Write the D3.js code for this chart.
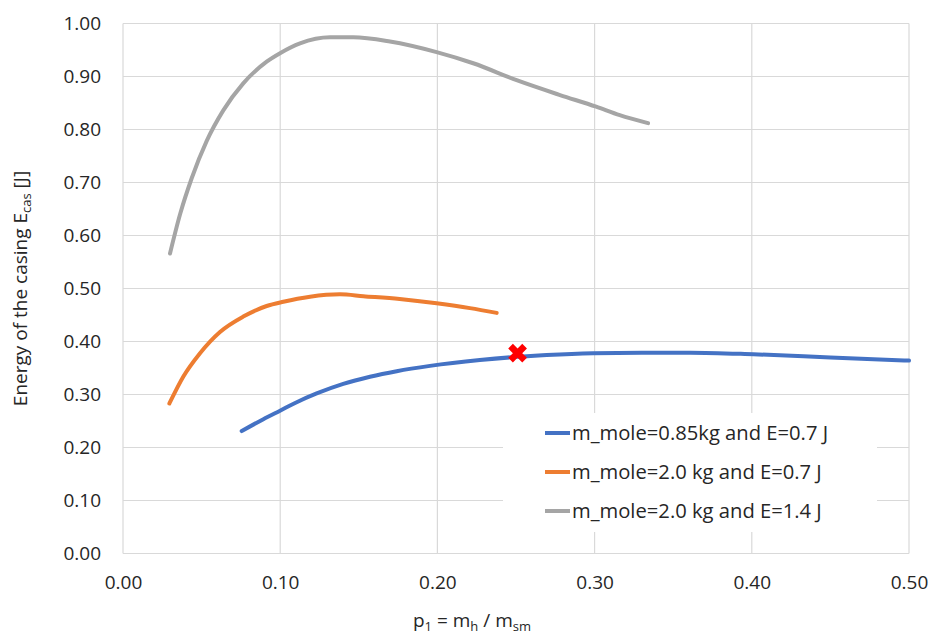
<!DOCTYPE html>
<html>
<head>
<meta charset="utf-8">
<script src="https://cdn.jsdelivr.net/npm/d3@7.9.0/dist/d3.min.js"></script>
<style>
  html, body { margin: 0; padding: 0; background: #fff; }
  svg { display: block; font-family: "Open Sans", Lato, sans-serif; }
</style>
</head>
<body>
<div id="chart"></div>
<script>
// series: p1 = m_h / m_sm  vs  E_cas [J]
const blueP = [0.0755, 0.0893, 0.0999, 0.1105, 0.1232, 0.1401, 0.1571, 0.1741, 0.1953, 0.227, 0.2504, 0.2695, 0.299, 0.330, 0.361, 0.401, 0.45, 0.5];
const blueE = [0.231, 0.2535, 0.2695, 0.2855, 0.302, 0.320, 0.3335, 0.344, 0.354, 0.365, 0.371, 0.3745, 0.378, 0.379, 0.379, 0.376, 0.370, 0.364];

const orangeP = [0.0295, 0.0384, 0.049, 0.0617, 0.0765, 0.0914, 0.102, 0.119, 0.138, 0.1529, 0.176, 0.1995, 0.2207, 0.2377];
const orangeE = [0.283, 0.334, 0.378, 0.418, 0.447, 0.467, 0.475, 0.4845, 0.489, 0.4855, 0.480, 0.472, 0.463, 0.454];

const grayP = [0.0299, 0.0363, 0.0437, 0.0532, 0.0638, 0.0765, 0.0914, 0.0999, 0.1126, 0.1317, 0.1465, 0.1698, 0.1995, 0.2228, 0.2504, 0.278, 0.301, 0.316, 0.334];
const grayE = [0.566, 0.640, 0.708, 0.778, 0.836, 0.887, 0.928, 0.944, 0.9625, 0.974, 0.974, 0.966, 0.946, 0.925, 0.893, 0.865, 0.843, 0.827, 0.812];

const markP = [0.251];
const markE = [0.378];

const seriesNames = [
  "m_mole=0.85kg and E=0.7 J",
  "m_mole=2.0 kg and E=0.7 J",
  "m_mole=2.0 kg and E=1.4 J"
];
const seriesColors = ["#4472C4", "#ED7D31", "#A5A5A5"];

const xTicks = [0, 0.1, 0.2, 0.3, 0.4, 0.5];
const yTicks = [0, 0.1, 0.2, 0.3, 0.4, 0.5, 0.6, 0.7, 0.8, 0.9, 1.0];

const width = 930, height = 637;
const margin = { top: 23.5, right: 21, bottom: 83.5, left: 123 };
const font = "'Open Sans', Lato, sans-serif";

const svg = d3.select("#chart")
  .append("svg")
  .attr("width", width)
  .attr("height", height);

const x = d3.scaleLinear()
  .domain([0, 0.5])
  .range([margin.left, width - margin.right]);

const y = d3.scaleLinear()
  .domain([0, 1])
  .range([height - margin.bottom, margin.top]);

// gridlines
svg.append("g")
  .selectAll("line")
  .data(yTicks)
  .join("line")
  .attr("x1", x(0)).attr("x2", x(0.5))
  .attr("y1", d => y(d)).attr("y2", d => y(d))
  .attr("stroke", "#d9d9d9")
  .attr("stroke-width", 1.2);

svg.append("g")
  .selectAll("line")
  .data(xTicks)
  .join("line")
  .attr("x1", d => x(d)).attr("x2", d => x(d))
  .attr("y1", y(0)).attr("y2", y(1))
  .attr("stroke", "#d9d9d9")
  .attr("stroke-width", 1.2);

// axes (labels only, Excel style)
const yAxis = svg.append("g")
  .attr("transform", `translate(${x(0)},0)`)
  .call(d3.axisLeft(y).tickValues(yTicks).tickFormat(d3.format(".2f")).tickSize(0).tickPadding(22));
yAxis.select(".domain").remove();
yAxis.selectAll("text")
  .attr("font-size", 19)
  .attr("font-family", font)
  .attr("fill", "#262626");

const xAxis = svg.append("g")
  .attr("transform", `translate(0,${y(0)})`)
  .call(d3.axisBottom(x).tickValues(xTicks).tickFormat(d3.format(".2f")).tickSize(0).tickPadding(22));
xAxis.select(".domain").remove();
xAxis.selectAll("text")
  .attr("font-size", 19)
  .attr("font-family", font)
  .attr("fill", "#262626");

// lines
const line = d3.line()
  .x(d => x(d[0]))
  .y(d => y(d[1]))
  .curve(d3.curveMonotoneX);

const series = [
  d3.zip(blueP, blueE),
  d3.zip(orangeP, orangeE),
  d3.zip(grayP, grayE)
];

svg.append("g")
  .selectAll("path")
  .data(series)
  .join("path")
  .attr("d", line)
  .attr("fill", "none")
  .attr("stroke", (d, i) => seriesColors[i])
  .attr("stroke-width", 4)
  .attr("stroke-linecap", "round")
  .attr("stroke-linejoin", "round");

// red cross marker
svg.append("g")
  .selectAll("path")
  .data(d3.zip(markP, markE))
  .join("path")
  .attr("transform", d => `translate(${x(d[0])},${y(d[1])}) rotate(45)`)
  .attr("d", d3.symbol(d3.symbolCross, 220))
  .attr("fill", "#FF0000");

// legend
const legend = svg.append("g");
legend.append("rect")
  .attr("x", 503).attr("y", 413)
  .attr("width", 374).attr("height", 119)
  .attr("fill", "#fff");

const items = legend.selectAll("g")
  .data(seriesNames)
  .join("g")
  .attr("transform", (d, i) => `translate(545,${433 + i * 39})`);

items.append("line")
  .attr("x1", 0).attr("x2", 25)
  .attr("y1", 0).attr("y2", 0)
  .attr("stroke", (d, i) => seriesColors[i])
  .attr("stroke-width", 4);

items.append("text")
  .attr("x", 27)
  .attr("y", 0)
  .attr("dy", "0.35em")
  .attr("font-size", 20.2)
  .attr("fill", "#262626")
  .text(d => d);

// axis titles
const yTitle = svg.append("text")
  .attr("transform", `translate(27,${(y(0) + y(1)) / 2}) rotate(-90)`)
  .attr("text-anchor", "middle")
  .attr("font-size", 19)
  .attr("fill", "#262626");
yTitle.append("tspan").text("Energy of the casing E");
yTitle.append("tspan").attr("font-size", 13).attr("dy", 4).text("cas");
yTitle.append("tspan").attr("dy", -4).text(" [J]");

const xTitle = svg.append("text")
  .attr("x", 472)
  .attr("y", 627)
  .attr("text-anchor", "middle")
  .attr("font-size", 19)
  .attr("fill", "#262626");
xTitle.append("tspan").text("p");
xTitle.append("tspan").attr("font-size", 13).attr("dy", 4).text("1");
xTitle.append("tspan").attr("dy", -4).text(" = m");
xTitle.append("tspan").attr("font-size", 13).attr("dy", 4).text("h");
xTitle.append("tspan").attr("dy", -4).text(" / m");
xTitle.append("tspan").attr("font-size", 13).attr("dy", 4).text("sm");
</script>
</body>
</html>
